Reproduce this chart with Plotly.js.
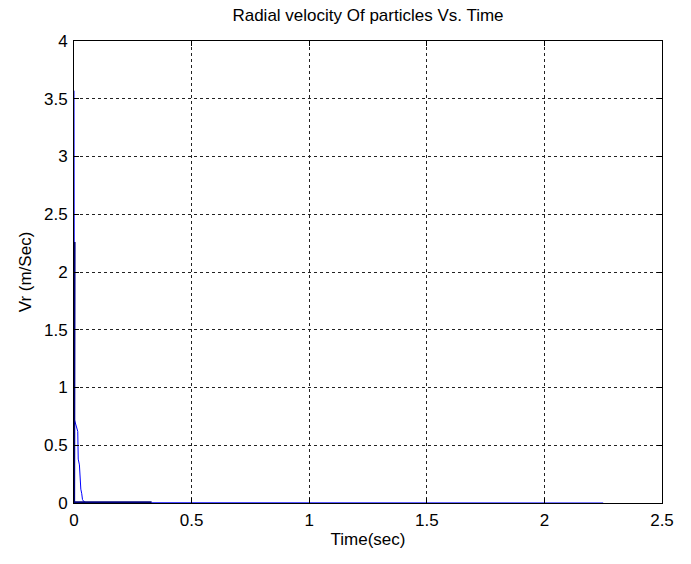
<!DOCTYPE html>
<html>
<head>
<meta charset="utf-8">
<script src="https://cdn.plot.ly/plotly-3.0.1.min.js"></script>
<style>html,body{margin:0;padding:0;background:#fff;}#chart{width:691px;height:564px;}</style>
</head>
<body>
<div id="chart"></div>
<script>
// Series 1 (blue): radial velocity vs time
const timeBlue = [0, 0.002, 0.016, 0.018, 0.023, 0.025, 0.029, 0.033, 0.036, 0.042, 0.05, 0.33, 2.25];
const vrBlue   = [3.57, 0.72, 0.62, 0.38, 0.33, 0.24, 0.12, 0.08, 0.03, 0.012, 0.004, 0.002, 0.0];
// Series 2 (dark navy)
const timeDark = [0.0025, 0.0025, 0.0006, 0.0006, 0.05, 0.33];
const vrDark   = [2.26, 1.25, 1.0, 0.006, 0.006, 0.006];

const xTicks = [0, 0.5, 1, 1.5, 2, 2.5];
const yTicks = [0, 0.5, 1, 1.5, 2, 2.5, 3, 3.5, 4];

const fam = 'Arial, "Liberation Sans", sans-serif';
const tickFont = {family: fam, size: 17, color: '#000'};
const labelFont = {family: fam, size: 17, color: '#000'};
const titleFont = {family: fam, size: 17, color: '#000'};

const traces = [
  {x: timeBlue, y: vrBlue, type: 'scatter', mode: 'lines', line: {color: '#0000ff', width: 1}, hoverinfo: 'skip'},
  {x: timeDark, y: vrDark, type: 'scatter', mode: 'lines', line: {color: '#00007a', width: 2}, hoverinfo: 'skip'}
];

const axisCommon = {
  showline: true, linecolor: '#000', linewidth: 1, mirror: 'allticks',
  ticks: 'inside', ticklen: 5, tickcolor: '#000', tickwidth: 1,
  showgrid: true, gridcolor: '#222', gridwidth: 1, griddash: '3px,3px',
  zeroline: false, tickfont: tickFont, fixedrange: true
};

const layout = {
  width: 691, height: 564,
  margin: {l: 74, r: 29, t: 41, b: 61},
  paper_bgcolor: '#fff', plot_bgcolor: '#fff',
  showlegend: false,
  font: tickFont,
  title: {text: 'Radial velocity Of particles Vs. Time', font: titleFont, x: 0.5, xref: 'paper', y: 1 - 15/564, yref: 'container', yanchor: 'middle'},
  xaxis: Object.assign({}, axisCommon, {range: [0, 2.5], tickvals: xTicks, ticktext: xTicks.map(String),
    ticklabelstandoff: 2,
    title: {text: 'Time(sec)', font: labelFont, standoff: 3}}),
  yaxis: Object.assign({}, axisCommon, {range: [0, 4], tickvals: yTicks, ticktext: yTicks.map(String),
    ticklabelstandoff: 2,
    title: {text: 'Vr (m/Sec)', font: labelFont, standoff: 8}})
};

Plotly.newPlot('chart', traces, layout, {displayModeBar: false, staticPlot: true});
</script>
</body>
</html>
